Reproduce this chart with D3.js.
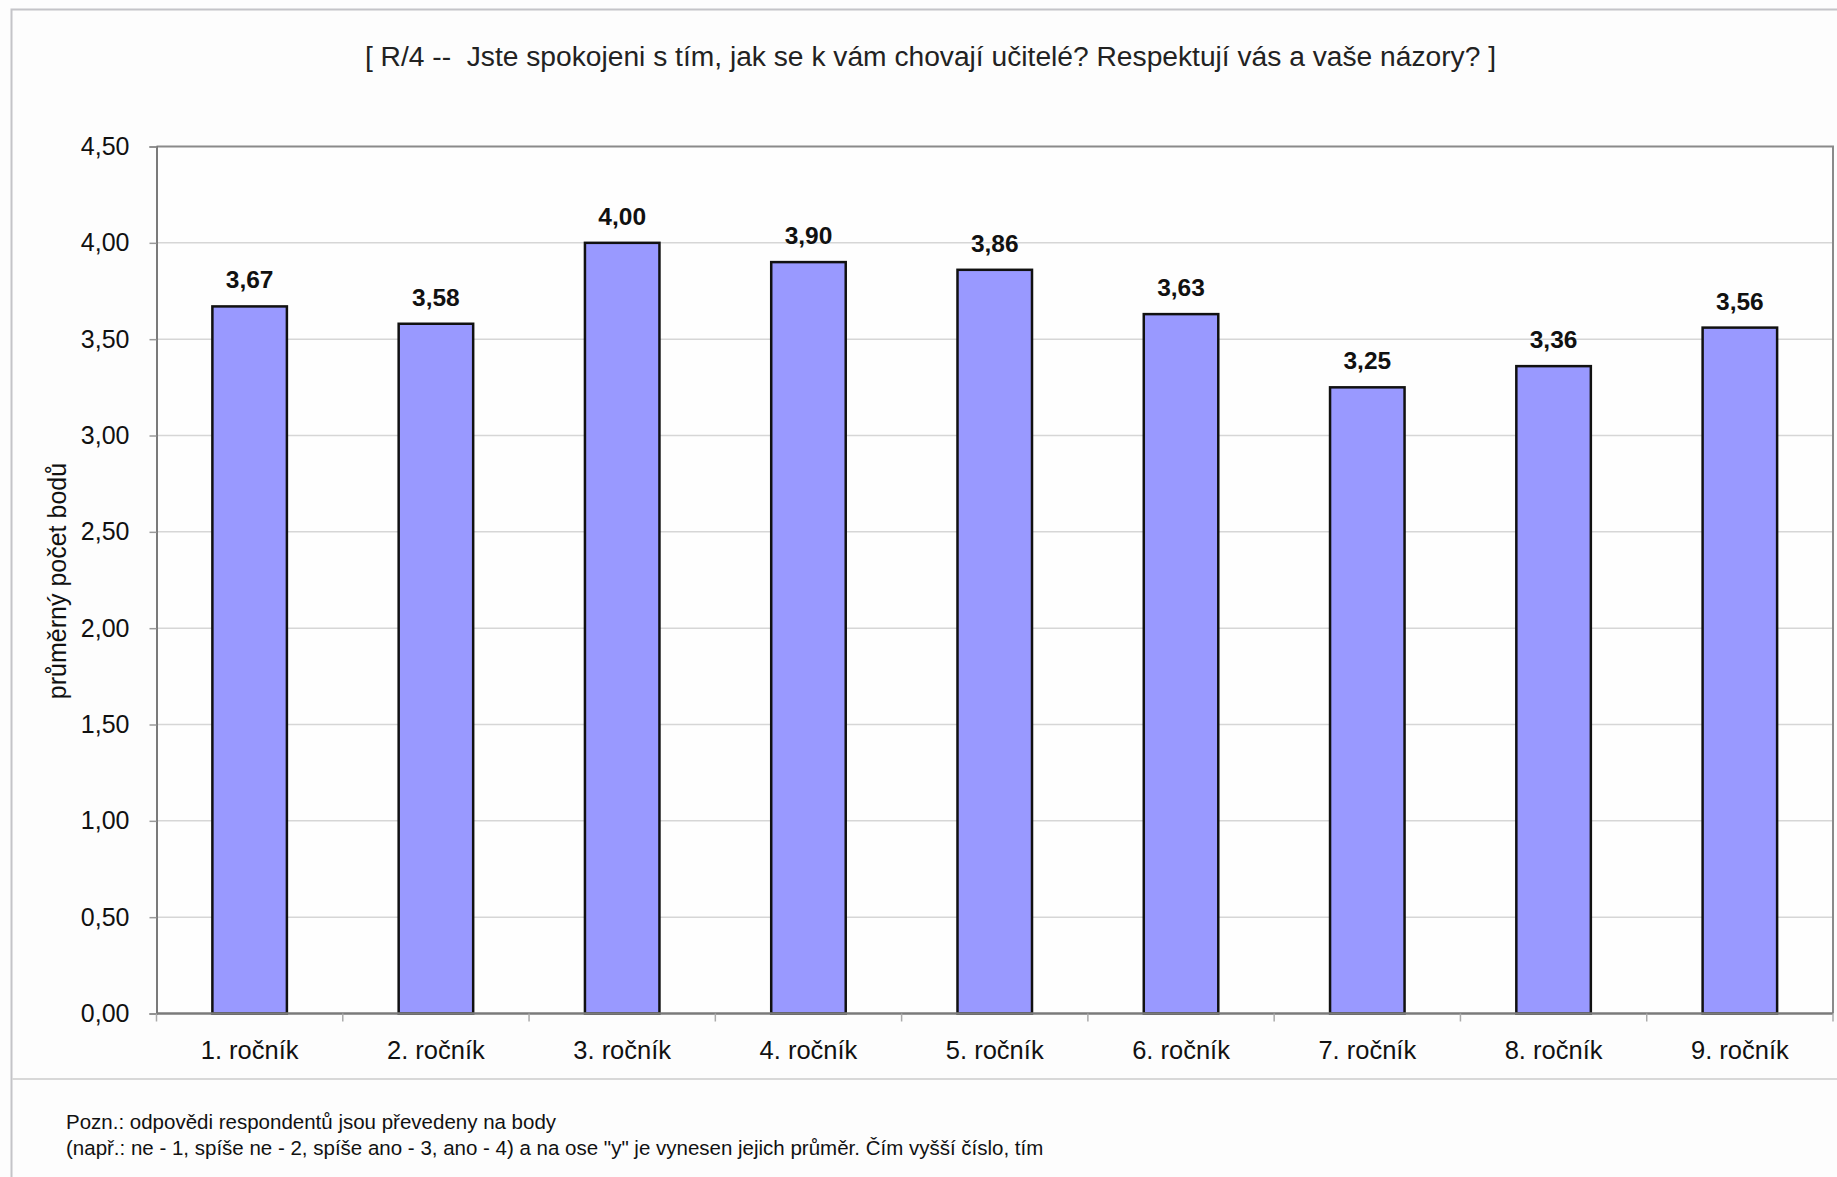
<!DOCTYPE html>
<html>
<head>
<meta charset="utf-8">
<script src="https://cdn.jsdelivr.net/npm/d3@7"></script>
<style>
  html, body { margin: 0; padding: 0; background: #fdfdfd; overflow: hidden; }
  text { font-family: "Liberation Sans", Arial, sans-serif; fill: #111; }
</style>
</head>
<body>
<svg width="1837" height="1177"></svg>
<script>

var categories = ["1. ročník", "2. ročník", "3. ročník", "4. ročník", "5. ročník",
                  "6. ročník", "7. ročník", "8. ročník", "9. ročník"];
var values = [3.67, 3.58, 4.00, 3.90, 3.86, 3.63, 3.25, 3.36, 3.56];
var yTicks = [0, 0.5, 1, 1.5, 2, 2.5, 3, 3.5, 4, 4.5];

var title = "[ R/4 --  Jste spokojeni s tím, jak se k vám chovají učitelé? Respektují vás a vaše názory? ]";
var yTitle = "průměrný počet bodů";
var noteLines = [
  "Pozn.: odpovědi respondentů jsou převedeny na body",
  "(např.: ne - 1, spíše ne - 2, spíše ano - 3, ano - 4) a na ose \"y\" je vynesen jejich průměr. Čím vyšší číslo, tím",
  "je hodnocení pozitivnější."
];

var fmt = function(v) { return d3.format(".2f")(v).replace(".", ","); };

var svg = d3.select("svg");

var plotLeft = 156.5, plotRight = 1833, plotTop = 146.5, plotBottom = 1013.5;

var x = d3.scaleBand()
    .domain(categories)
    .range([plotLeft, plotRight])
    .padding(0);

var y = d3.scaleLinear()
    .domain([0, 4.5])
    .range([plotBottom, plotTop]);

// outer frame
svg.append("rect")
    .attr("x", 11.5).attr("y", 9.5)
    .attr("width", 1900).attr("height", 1300)
    .attr("fill", "#fdfdfd")
    .attr("stroke", "#c4c4c8")
    .attr("stroke-width", 2);

svg.append("line")
    .attr("x1", 12).attr("x2", 1837)
    .attr("y1", 1079).attr("y2", 1079)
    .attr("stroke", "#d8d8d8")
    .attr("stroke-width", 2);

// title
svg.append("text")
    .attr("x", (366 + 1495) / 2)
    .attr("y", 66)
    .attr("text-anchor", "middle")
    .style("font-size", "28.2px")
    .style("white-space", "pre")
    .style("fill", "#222")
    .text(title);

// plot background + grid
svg.append("rect")
    .attr("x", plotLeft).attr("y", plotTop)
    .attr("width", plotRight - plotLeft).attr("height", plotBottom - plotTop)
    .attr("fill", "#fefefe");

svg.append("g")
    .selectAll("line")
    .data(yTicks.slice(1, -1))
    .enter().append("line")
      .attr("x1", plotLeft).attr("x2", plotRight)
      .attr("y1", function(d) { return y(d); })
      .attr("y2", function(d) { return y(d); })
      .attr("stroke", "#d6d6d6")
      .attr("stroke-width", 1.5);

// plot border top/right
svg.append("path")
    .attr("d", "M" + plotLeft + "," + plotTop + "H" + plotRight + "V" + plotBottom)
    .attr("fill", "none")
    .attr("stroke", "#8a8a8a")
    .attr("stroke-width", 2);

// y axis
var yAxis = svg.append("g")
    .attr("transform", "translate(" + plotLeft + ",0)")
    .call(d3.axisLeft(y).tickValues(yTicks).tickSize(7).tickPadding(20).tickFormat(fmt));
yAxis.select(".domain").attr("stroke", "#7a7a7a").attr("stroke-width", 2);
yAxis.selectAll(".tick line").attr("stroke", "#9a9a9a").attr("stroke-width", 1.5);
yAxis.selectAll(".tick text")
    .style("font-size", "25px")
    .style("font-family", "\"Liberation Sans\", Arial, sans-serif")
    .attr("fill", "#111");

// bars
svg.append("g")
    .selectAll("rect")
    .data(values)
    .enter().append("rect")
      .attr("x", function(d, i) { return x(categories[i]) + x.bandwidth() * 0.3; })
      .attr("width", x.bandwidth() * 0.4)
      .attr("y", function(d) { return y(d); })
      .attr("height", function(d) { return y(0) - y(d); })
      .attr("fill", "#9999ff")
      .attr("stroke", "#111")
      .attr("stroke-width", 2.5);

// value labels
svg.append("g")
    .selectAll("text")
    .data(values)
    .enter().append("text")
      .attr("x", function(d, i) { return x(categories[i]) + x.bandwidth() / 2; })
      .attr("y", function(d) { return y(d) - 18; })
      .attr("text-anchor", "middle")
      .style("font-size", "24.5px")
      .style("font-weight", "bold")
      .text(fmt);

// x axis
var xAxis = svg.append("g")
    .attr("transform", "translate(0," + plotBottom + ")");
xAxis.append("line")
    .attr("x1", plotLeft).attr("x2", plotRight)
    .attr("stroke", "#7a7a7a").attr("stroke-width", 2.5);
xAxis.selectAll(".tk")
    .data(categories.concat([null]))
    .enter().append("line")
      .attr("class", "tk")
      .attr("x1", function(d, i) { return plotLeft + i * x.step(); })
      .attr("x2", function(d, i) { return plotLeft + i * x.step(); })
      .attr("y1", 0).attr("y2", 8)
      .attr("stroke", "#aaa").attr("stroke-width", 1.5);
xAxis.selectAll(".lbl")
    .data(categories)
    .enter().append("text")
      .attr("class", "lbl")
      .attr("x", function(d) { return x(d) + x.bandwidth() / 2; })
      .attr("y", 1059 - plotBottom)
      .attr("text-anchor", "middle")
      .style("font-size", "25.5px")
      .text(function(d) { return d; });

// y title
svg.append("text")
    .attr("transform", "translate(66,581) rotate(-90)")
    .attr("text-anchor", "middle")
    .style("font-size", "25px")
    .text(yTitle);

// note (third line is cut off at the bottom edge, only accents show)
svg.append("clipPath").attr("id", "noteclip")
  .append("rect").attr("x", 0).attr("y", 1090).attr("width", 1837).attr("height", 82.5);

svg.append("g")
    .attr("clip-path", "url(#noteclip)")
    .selectAll("text")
    .data(noteLines)
    .enter().append("text")
      .attr("x", 66)
      .attr("y", function(d, i) { return i < 2 ? 1129 + i * 26 : 1187.5; })
      .style("font-size", "20.5px")
      .text(function(d) { return d; });

</script>
</body>
</html>
